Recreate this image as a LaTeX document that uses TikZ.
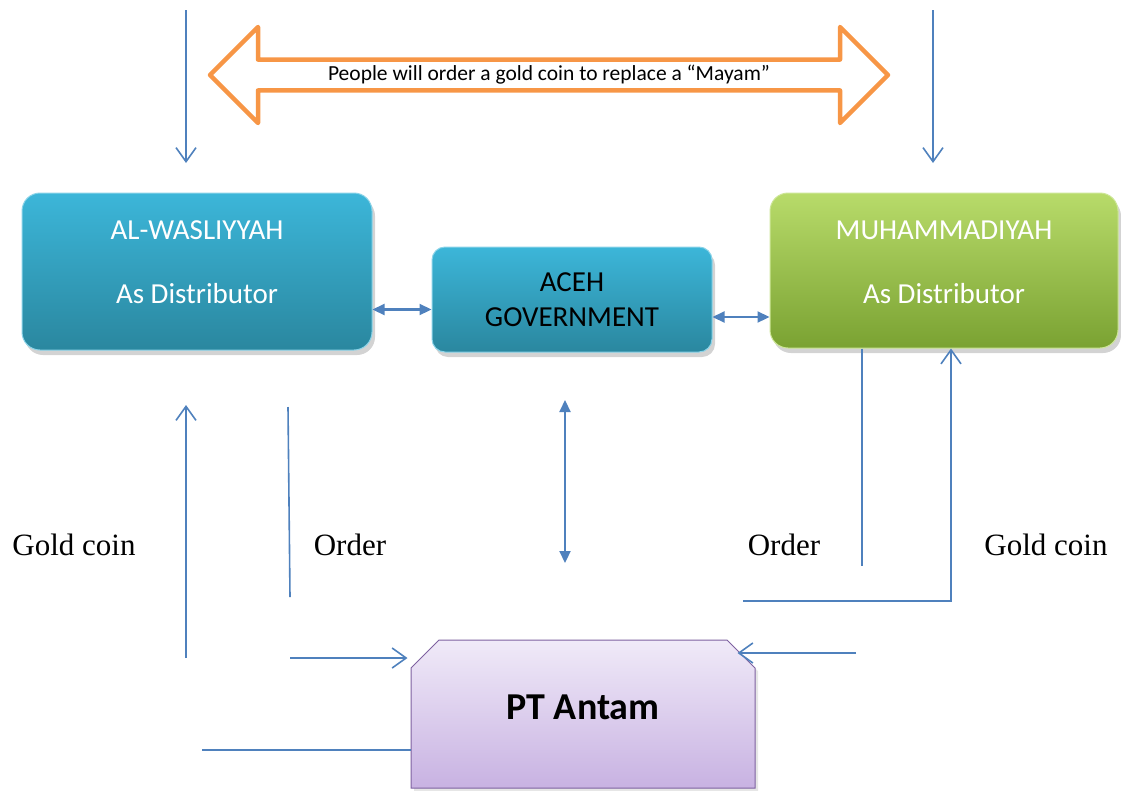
\documentclass[tikz,border=0pt]{standalone}
\usepackage{fontspec}
\setmainfont{Liberation Serif}
\newfontfamily\kastenfont{Carlito}
\usetikzlibrary{arrows.meta,shapes.arrows,shapes.misc,shadows}

\definecolor{linienblau}{HTML}{4F81BD}
\definecolor{pfeilorange}{HTML}{F79646}
\definecolor{blauoben}{HTML}{3CB6D9}
\definecolor{blauunten}{HTML}{2A879F}
\definecolor{gruenoben}{HTML}{B8DB6A}
\definecolor{gruenunten}{HTML}{7AA232}
\definecolor{lilaoben}{HTML}{F0EAF8}
\definecolor{lilaunten}{HTML}{C8B2E2}
\definecolor{lilarand}{HTML}{7E61A0}

\tikzset{
	kasten/.style={rounded corners=18pt, line width=1pt, align=center,
		drop shadow={shadow xshift=3pt, shadow yshift=-5pt, opacity=0.35},
		font=\kastenfont\fontsize{29}{34}\selectfont},
	blau/.style={top color=blauoben, bottom color=blauunten, draw=blauoben!60!white},
	gruen/.style={top color=gruenoben, bottom color=gruenunten, draw=gruenoben!70!white},
	kastentext/.style={text=white, font=\kastenfont\fontsize{29}{34}\selectfont},
	linie/.style={draw=linienblau, line width=1.6pt},
	fluss/.style={linie, -{Straight Barb[length=14pt,width=20pt]}},
	doppel/.style={draw=linienblau, line width=2.2pt,
		{Triangle[length=12pt,width=11pt]}-{Triangle[length=12pt,width=11pt]}},
	beschriftung/.style={font=\fontsize{31}{36}\selectfont}
}

\begin{document}
\begin{tikzpicture}[x=1pt,y=-1pt]
	\useasboundingbox (0,0) rectangle (1121,790);
	% Kaesten
	\node[kasten, blau, minimum width=350pt, minimum height=157pt] (wal) at (197,271.5) {};
	\node[kasten, gruen, minimum width=348pt, minimum height=155pt] (muh) at (944,270.5) {};
	\node[kasten, blau, rounded corners=13pt, minimum width=280pt, minimum height=105pt] (aceh) at (572,299.5) {ACEH\\[1pt]GOVERNMENT};
	\node[kastentext] (walname) at ([yshift=-38pt]wal.north) {AL-WASLIYYAH};
	\node[kastentext] (walrolle) at ([yshift=57pt]wal.south) {As Distributor};
	\node[kastentext] (muhname) at ([yshift=-38pt]muh.north) {MUHAMMADIYAH};
	\node[kastentext] (muhrolle) at ([yshift=55pt]muh.south) {As Distributor};
	\node[chamfered rectangle, chamfered rectangle corners={north west,north east},
		chamfered rectangle xsep=14pt, chamfered rectangle ysep=14pt,
		top color=lilaoben, bottom color=lilaunten, draw=lilarand, line width=1pt,
		drop shadow={shadow xshift=3pt, shadow yshift=-3pt, opacity=0.2},
		minimum width=344pt, minimum height=148pt, inner sep=0pt,
		font=\kastenfont\bfseries\fontsize{38}{44}\selectfont] (antam) at (583,714) {\raisebox{14pt}{PT Antam}};
	% Doppelpfeil oben
	\node[double arrow, draw=pfeilorange, fill=white, line width=4.5pt, line join=round,
		double arrow tip angle=90, double arrow head extend=25pt,
		minimum width=96pt, minimum height=678pt, inner sep=0pt,
		font=\kastenfont\fontsize{21.5}{26}\selectfont] (mayam) at (549,75) {People will order a gold coin to replace a \textquotedblleft Mayam\textquotedblright};
	% freie Enden
	\coordinate (obenL) at (186,10);
	\coordinate (obenLende) at (186,163);
	\coordinate (obenR) at (933,10);
	\coordinate (obenRende) at (933,163);
	\coordinate (goldL) at (186,658);
	\coordinate (goldLende) at (186,405);
	\coordinate (orderL) at (288,407);
	\coordinate (orderLende) at (290,597);
	\coordinate (orderLpfeil) at (290,658);
	\coordinate (goldLunten) at (202,750);
	\coordinate (regOben) at (565,400);
	\coordinate (regUnten) at (565,563);
	\coordinate (orderR) at (862,566);
	\coordinate (goldR) at (743,601);
	\coordinate (goldRecke) at (951,601);
	\coordinate (orderRpfeil) at (856,653);
	% Verbindungen
	\draw[fluss] (obenL) -- (obenLende);
	\draw[fluss] (obenR) -- (obenRende);
	\draw[doppel] ([yshift=-10pt]aceh.west -| wal.east) -- ([yshift=-10pt]aceh.west);
	\draw[doppel] ([yshift=-17.5pt]aceh.east) -- ([yshift=-17.5pt]aceh.east -| muh.west);
	\draw[doppel] (regOben) -- (regUnten);
	\draw[fluss] (goldL) -- (goldLende);
	\draw[linie] (orderL) -- (orderLende);
	\draw[fluss] (orderLpfeil) -- ([xshift=-3pt]orderLpfeil -| antam.west);
	\draw[linie] (goldLunten) -- (goldLunten -| antam.west);
	\draw[linie] (orderR |- muh.south) -- (orderR);
	\draw[fluss] (goldR) -- (goldRecke) -- (goldRecke |- muh.south);
	\draw[fluss] (orderRpfeil) -- ([xshift=-18pt]orderRpfeil -| antam.east);
	% Beschriftung
	\node[beschriftung] (goldcoinL) at (74,545) {Gold coin};
	\node[beschriftung] (orderLtext) at (350,545) {Order};
	\node[beschriftung] (orderRtext) at (784,545) {Order};
	\node[beschriftung] (goldcoinR) at (1046,545) {Gold coin};
\end{tikzpicture}
\end{document}
